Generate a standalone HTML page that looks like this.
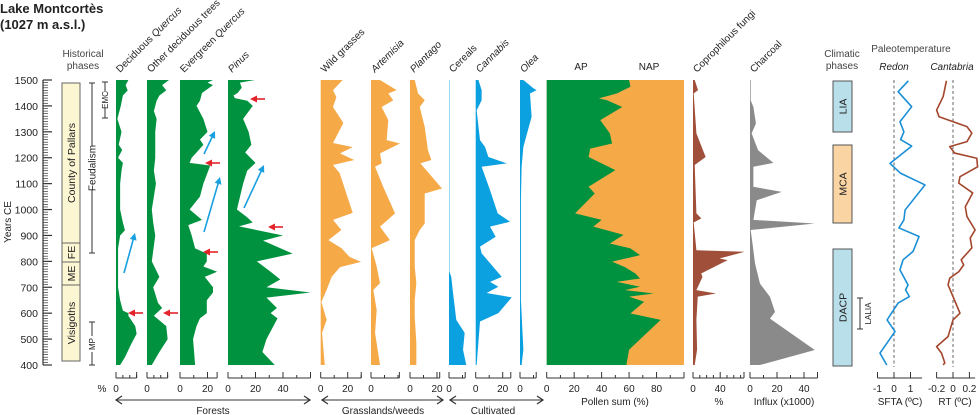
<!DOCTYPE html>
<html><head><meta charset="utf-8">
<style>
html,body{margin:0;padding:0;background:#fff;}
svg{display:block;font-family:"Liberation Sans",Arial,sans-serif;}
</style></head>
<body>
<svg id="chart" width="980" height="415" viewBox="0 0 980 415" xmlns="http://www.w3.org/2000/svg">
<g id="static">
  <text x="0" y="13" font-size="13" font-weight="bold" fill="#222">Lake Montcortès</text>
  <text x="0" y="29" font-size="13" font-weight="bold" fill="#222">(1027 m a.s.l.)</text>
  <text x="83" y="57" font-size="10" fill="#444" text-anchor="middle">Historical</text>
  <text x="83" y="69" font-size="10" fill="#444" text-anchor="middle">phases</text>
  <text transform="translate(11,222) rotate(-90)" font-size="10" fill="#222" text-anchor="middle">Years CE</text>
  <text x="581" y="70" font-size="10" fill="#222" text-anchor="middle">AP</text>
  <text x="649" y="70" font-size="10" fill="#222" text-anchor="middle">NAP</text>
  <text x="842" y="57" font-size="10" fill="#444" text-anchor="middle">Climatic</text>
  <text x="842" y="69" font-size="10" fill="#444" text-anchor="middle">phases</text>
  <text x="911" y="52" font-size="10" fill="#444" text-anchor="middle">Paleotemperature</text>
  <text x="894" y="70" font-size="10" font-style="italic" fill="#222" text-anchor="middle">Redon</text>
  <text x="952" y="70" font-size="10" font-style="italic" fill="#222" text-anchor="middle">Cantabria</text>
  <text x="102" y="392" font-size="10" fill="#222" text-anchor="middle">%</text>
  <text x="615" y="405" font-size="10" fill="#222" text-anchor="middle">Pollen sum (%)</text>
  <text x="719" y="405" font-size="10" fill="#222" text-anchor="middle">%</text>
  <text x="784" y="405" font-size="10" fill="#222" text-anchor="middle">Influx (x1000)</text>
  <text x="900" y="405" font-size="10" fill="#222" text-anchor="middle">SFTA (ºC)</text>
  <text x="955" y="405" font-size="10" fill="#222" text-anchor="middle">RT (ºC)</text>
</g>
<g id="dyn"></g>
</svg>
<script>
// ---------- data ----------
const decQuercusYears=[1500,1480,1460,1440,1400,1350,1300,1250,1230,1200,1180,1150,1100,1000,950,920,900,850,800,700,650,610,600,590,550,520,480,430,400];
const decQuercusVals=[9,7,8.5,5,3.5,1,4,2,4.5,1.5,5,4,3,3,5,6.5,3,1.5,1.5,1.5,3,5,9,9,14,15,11,6.5,3];
const otherDecYears=[1500,1480,1460,1440,1420,1380,1350,1300,1200,1150,1100,1000,950,900,800,740,700,640,620,600,590,550,500,450,400];
const otherDecVals=[16,11,14,9,7,5,7,6,6,5,6.5,3.5,4.5,6,3.5,9,4.5,8,11,7,5,14,15,9,3.5];
const evergreenYears=[1500,1490,1480,1450,1420,1400,1350,1300,1270,1250,1220,1200,1180,1170,1100,1050,1000,960,940,900,850,830,800,780,760,740,700,680,650,600,580,550,500,400];
const evergreenVals=[24,20,24,16,14.5,12,17,20,14.5,17,12,8.5,7,22,17,14.5,7,16,6,8.5,11,19.5,19.5,17,27,18,24,24,19.5,19.5,14.5,12,9.5,11];
const pinusYears=[1500,1490,1470,1450,1440,1430,1420,1400,1350,1300,1250,1220,1180,1150,1100,1000,970,950,935,900,880,830,800,760,730,700,680,660,620,600,580,500,450,400];
const pinusVals=[19.6,8.7,10,7,4,5,14,18,11,15,17,12.5,20,14,11,6.5,14,18,8,40,25.5,47,21,31,38,28,60,28,35.6,31,36,28,25,34];
const grassYears=[1500,1461,1434,1396,1334,1257,1241,1217,1191,1172,1141,987,960,921,882,851,817,798,778,740,690,643,574,524,400];
const grassVals=[16.3,9.1,11.6,9.1,16.8,9.1,23.7,14.3,24.9,9.1,14,23.7,9.1,15.3,5.7,15.3,21.5,29.9,14.3,8.1,4.4,0.5,4.4,1,3];
const artemisiaYears=[1500,1461,1448,1422,1396,1345,1268,1255,1217,1178,1165,1088,985,934,882,851,780,716,690,613,524,400];
const artemisiaVals=[6.7,19,12.8,16.5,7.9,12.8,11.6,21.5,6.7,7.9,3,9,17.8,6.7,14,0.5,4.2,6.7,1.7,4.2,3,6.7];
const plantagoYears=[1500,1448,1422,1396,1319,1229,1191,1178,1081,1062,946,921,882,780,716,651,587,485,400];
const plantagoVals=[3.5,6,10.9,7.2,10.9,13.3,15.8,7.7,23.7,10.9,10.9,7.2,3.5,3.5,4.7,3.5,3.5,4.7,4.7];
const cerealsYears=[1500,760,740,678,574,524,459,400];
const cerealsVals=[0.3,0.3,1.7,3,5.4,11.6,10.4,12.8];
const cannabisYears=[1500,1461,1422,1383,1268,1242,1203,1178,1165,1075,985,953,934,895,857,831,740,721,702,678,661,600,568,400];
const cannabisVals=[2,4.4,4.4,0.7,3.2,6.9,9.4,23,4.4,10.6,16.3,25.4,10.6,14.8,3.2,4.4,19.3,10.6,16.8,8.1,26.7,16.8,3.2,0.7];
const oleaYears=[1500,1468,1461,1448,1358,1242,1165,1036,651,459,400];
const oleaVals=[2.5,9.9,12.3,7.4,8.6,2.5,1.2,0.7,0.7,2.5,1.2];
const apYears=[1500,1474,1448,1429,1422,1396,1345,1294,1255,1235,1203,1184,1152,1088,1062,985,960,934,902,869,850,824,799,778,753,734,721,702,689,676,664,644,599,574,459,400];
const apVals=[60,61,51,38,44,55,39,46,47.6,31.7,30.5,37.8,50,30.5,35,20.7,40,34,56,46,61,68,47.6,57,64.6,68,51,68,57,78,60,71,61,83,60,58];
const fungiYears=[1500,1461,1448,1294,1203,1172,985,966,950,843,837,811,805,753,740,689,676,664,574,459,400];
const fungiVals=[2.5,7.4,1,5,18.6,2.5,5,12.3,1,5,76,39,51,12,14,5,34,7,5,6,2.5];
const charcoalYears=[1500,1422,1396,1332,1294,1229,1180,1165,1088,1068,1036,960,946,921,843,792,714,663,605,579,458,400];
const charcoalVals=[0.5,0.5,2.5,4.4,1.2,6,17.3,2.5,2.5,23.5,5,2.5,48,0.5,2.5,3.7,7.4,14.8,18.5,14.8,48,7.4];
const redonYears=[1497,1455,1397,1339,1300,1270,1245,1178,1140,1095,998,960,929,896,838,806,767,709,690,664,639,574,529,446,400];
const redonVals=[0.87,0.25,1.07,0.36,0.6,0.4,1.07,-0.24,0.4,1.88,0.67,0.6,0.3,1.52,1.15,0.55,0.36,0.85,0.7,0.93,0.25,-0.42,0.06,-0.85,-0.44];
const cantabriaYears=[1497,1436,1384,1358,1320,1295,1262,1243,1218,1198,1165,1127,1102,1064,1011,973,921,890,852,806,786,760,735,709,664,600,574,510,471,446,408,400];
const cantabriaVals=[-0.08,-0.12,-0.2,-0.17,0.17,0.23,0.17,-0.04,0.02,0.29,0.3,0.085,0.07,0.24,0.15,0.17,0.27,0.21,0.23,0.1,0.13,0.07,-0.04,-0.06,0,0.085,0,-0.06,-0.2,-0.14,-0.1,-0.12];
const yTickYears=[400,500,600,700,800,900,1000,1100,1200,1300,1400,1500];

// ---------- helpers ----------
const NS='http://www.w3.org/2000/svg';
const root=document.getElementById('dyn');
function el(tag,attrs,parent){const e=document.createElementNS(NS,tag);for(const k in attrs)e.setAttribute(k,attrs[k]);(parent||root).appendChild(e);return e;}
function yS(yr){return 80+(1500-yr)*285/1100;}

const GREEN='#00923f',ORANGE='#f6a947',BLUE='#0ba0e0',BROWN='#a0503a',GRAY='#8a8a8a';

// y axis
const yAxis=el('g',{});


el('line',{x1:43,y1:yS(1500),x2:43,y2:yS(400),stroke:'#333','stroke-width':1.2},yAxis);
for(let yr=400;yr<=1500;yr+=10){
  const major=yr%100===0;
  el('line',{x1:43,x2:major?52:48,y1:yS(yr),y2:yS(yr),stroke:'#333','stroke-width':major?1.2:0.7},yAxis);
}
yTickYears.forEach(yr=>{
  const t=el('text',{x:38,y:yS(yr)+4,'font-size':10.5,'text-anchor':'end',fill:'#222'},yAxis);
  t.textContent=yr;
  
  
});

// historical phases
const hp=el('g',{});


el('rect',{x:62,y:83,width:18,height:278,fill:'#fdf6d3',stroke:'#666','stroke-width':1},hp);
[243,262,285].forEach(y=>el('line',{x1:62,x2:80,y1:y,y2:y,stroke:'#666'},hp));
[['County of Pallars',163],['FE',252.5],['ME',273.5],['Visigoths',323]].forEach(([s,y])=>{
  const t=el('text',{transform:`translate(75,${y}) rotate(-90)`,'font-size':10.5,'text-anchor':'middle',fill:'#222'},hp);t.textContent=s;
  
  
});
function bracket(x,y1,y2,label,ym,g){
  el('line',{x1:x,x2:x,y1:y1,y2:ym-22,stroke:'#333'},g);
  el('line',{x1:x,x2:x,y1:ym+22,y2:y2,stroke:'#333'},g);
  el('line',{x1:x-3,x2:x+3,y1:y1,y2:y1,stroke:'#333'},g);
  el('line',{x1:x-3,x2:x+3,y1:y2,y2:y2,stroke:'#333'},g);
  const t=el('text',{transform:`translate(${x+3.5},${ym}) rotate(-90)`,'font-size':label.length>4?10:8,'text-anchor':'middle',fill:'#222'},g);t.textContent=label;
  return t;
}
const b1=bracket(92,83,253,'Feudalism',168,hp);


const eg=el('g',{},hp);
el('line',{x1:105,x2:105,y1:82,y2:92,stroke:'#333'},eg);el('line',{x1:105,x2:105,y1:108,y2:118,stroke:'#333'},eg);
el('line',{x1:102,x2:108,y1:82,y2:82,stroke:'#333'},eg);el('line',{x1:102,x2:108,y1:118,y2:118,stroke:'#333'},eg);
const et=el('text',{transform:'translate(108,100) rotate(-90)','font-size':8,'text-anchor':'middle',fill:'#222'},eg);et.textContent='EMC';


const mg=el('g',{},hp);
el('line',{x1:92,x2:92,y1:322,y2:336,stroke:'#333'},mg);el('line',{x1:92,x2:92,y1:352,y2:365,stroke:'#333'},mg);
el('line',{x1:89,x2:95,y1:322,y2:322,stroke:'#333'},mg);el('line',{x1:89,x2:95,y1:365,y2:365,stroke:'#333'},mg);
const mt=el('text',{transform:'translate(95,344) rotate(-90)','font-size':8,'text-anchor':'middle',fill:'#222'},mg);mt.textContent='MP';



// area columns
function areaCol(name,years,vals,x0,k,color,axisMax,tickStep,labels,title,italicPart){
  const g=el('g',{});
  
  
  let pts=[[x0,yS(years[0])]];
  years.forEach((yr,i)=>pts.push([x0+vals[i]*k,yS(yr)]));
  pts.push([x0,yS(years[years.length-1])]);
  const p=el('polygon',{points:pts.map(q=>q.join(',')).join(' '),fill:color},g);
  
  
  axis(g,x0,k,axisMax,tickStep,labels);
  if(title||italicPart){
    const t=el('text',{transform:`translate(${x0+4},73) rotate(-45)`,'font-size':10,fill:'#222'},g);
    if(title){const a=el('tspan',{},t);a.textContent=title;}
    if(italicPart){const b=el('tspan',{'font-style':'italic'},t);b.textContent=italicPart;}
    
    
  }
  return g;
}
function axis(g,x0,k,axisMax,tickStep,labels){
  const ag=el('g',{},g);
  
  
  el('line',{x1:x0,x2:x0+axisMax*k,y1:378,y2:378,stroke:'#333','stroke-width':1},ag);
  for(let v=0;v<=axisMax+0.01;v+=tickStep){
    const maj=labels.indexOf(v)>=0||v===0;
    el('line',{x1:x0+v*k,x2:x0+v*k,y1:378,y2:maj?372:375,stroke:'#333','stroke-width':1},ag);
  }
  el('line',{x1:x0+axisMax*k,x2:x0+axisMax*k,y1:378,y2:372,stroke:'#333'},ag);
  labels.forEach(v=>{const t=el('text',{x:x0+v*k,y:392,'font-size':10,'text-anchor':'middle',fill:'#222'},ag);t.textContent=v;
    
    });
}
areaCol('deciduous-quercus',decQuercusYears,decQuercusVals,116,1.375,GREEN,15,5,[0],'Deciduous ','Quercus');
areaCol('other-deciduous',otherDecYears,otherDecVals,147,1.375,GREEN,15,5,[0],'Other deciduous trees','');
areaCol('evergreen-quercus',evergreenYears,evergreenVals,180,1.375,GREEN,27,10,[0,20],'Evergreen ','Quercus');
areaCol('pinus',pinusYears,pinusVals,228,1.375,GREEN,60,10,[0,20,40],'','Pinus');
areaCol('wild-grasses',grassYears,grassVals,320.7,1.35,ORANGE,30,10,[0,20],'Wild grasses','');
areaCol('artemisia',artemisiaYears,artemisiaVals,371,1.35,ORANGE,21,10,[0],'','Artemisia');
areaCol('plantago',plantagoYears,plantagoVals,410,1.35,ORANGE,22,10,[0,20],'','Plantago');
areaCol('cereals',cerealsYears,cerealsVals,449,1.35,BLUE,12,10,[0],'Cereals','');
areaCol('cannabis',cannabisYears,cannabisVals,475.7,1.35,BLUE,26,10,[0,20],'','Cannabis');
areaCol('olea',oleaYears,oleaVals,520,1.35,BLUE,12,10,[0],'','Olea');
// AP/NAP
const apg=el('g',{});


const nap=el('rect',{x:546.7,y:80,width:137.3,height:285,fill:ORANGE},apg);


{
  let pts=[[546.7,yS(apYears[0])]];
  apYears.forEach((yr,i)=>pts.push([546.7+apVals[i]*1.373,yS(yr)]));
  pts.push([546.7,yS(400)]);
  const p=el('polygon',{points:pts.map(q=>q.join(',')).join(' '),fill:GREEN},apg);
  
  
  axis(apg,546.7,1.373,100,10,[0,20,40,60,80]);
}
areaCol('coprophilous-fungi',fungiYears,fungiVals,693,0.68,BROWN,75,10,[0,40],'Coprophilous fungi','');
areaCol('charcoal',charcoalYears,charcoalVals,750,1.35,GRAY,50,10,[0,20,40],'Charcoal','');

// climatic phases
const cp=el('g',{});


[['LIA',81,132,'#b9e0ea'],['MCA',145,223,'#fbd4a4'],['DACP',249,366,'#b9e0ea']].forEach(([s,y1,y2,c])=>{
  el('rect',{x:833,y:y1,width:19,height:y2-y1,fill:c,stroke:'#555'},cp);
  const t=el('text',{transform:`translate(846.5,${(y1+y2)/2}) rotate(-90)`,'font-size':10.5,'text-anchor':'middle',fill:'#222'},cp);t.textContent=s;
  
  
});
el('line',{x1:860,x2:860,y1:298,y2:329,stroke:'#333'},cp);
el('line',{x1:857,x2:863,y1:298,y2:298,stroke:'#333'},cp);
el('line',{x1:857,x2:863,y1:329,y2:329,stroke:'#333'},cp);
const lt=el('text',{transform:'translate(871,313.5) rotate(-90)','font-size':8,'text-anchor':'middle',fill:'#222'},cp);lt.textContent='LALIA';



// temperature curves
function lineCol(name,years,vals,x0,k,color,ticks,labels,axisFrom,axisTo){
  const g=el('g',{});
  
  
  el('line',{x1:x0,x2:x0,y1:80,y2:367,stroke:'#666','stroke-dasharray':'3,2.5','stroke-width':1},g);
  const p=el('polyline',{points:years.map((yr,i)=>(x0+vals[i]*k)+','+yS(yr)).join(' '),fill:'none',stroke:color,'stroke-width':1.6,'stroke-linejoin':'round'},g);
  
  
  el('line',{x1:x0+axisFrom*k,x2:x0+axisTo*k,y1:378,y2:378,stroke:'#333'},g);
  ticks.forEach(v=>el('line',{x1:x0+v*k,x2:x0+v*k,y1:378,y2:372,stroke:'#333'},g));
  labels.forEach((v,i)=>{const t=el('text',{x:x0+ticks[i]*k,y:392,'font-size':10,'text-anchor':'middle',fill:'#222'},g);t.textContent=v;
    
    });
}
lineCol('redon',redonYears,redonVals,894,16.5,'#1a8fd6',[-1,0,1],['-1','0','1'],-1,1.7);
lineCol('cantabria',cantabriaYears,cantabriaVals,953,82,'#a3462c',[-0.2,0,0.2],['-0.2','0','0.2'],-0.2,0.27);

// group arrows
function dArrow(name,x1,x2,label,lx){
  const g=el('g',{});
  
  
  el('line',{x1:x1,x2:x2,y1:400,y2:400,stroke:'#333','stroke-width':1},g);
  el('polyline',{points:`${x1+6},396 ${x1},400 ${x1+6},404`,fill:'none',stroke:'#333','stroke-width':1.2},g);
  el('polyline',{points:`${x2-6},396 ${x2},400 ${x2-6},404`,fill:'none',stroke:'#333','stroke-width':1.2},g);
  const t=el('text',{x:lx,y:414,'font-size':10,'text-anchor':'middle',fill:'#222'},g);t.textContent=label;
}
dArrow('forests-arrow',116,310,'Forests',213);
dArrow('grasslands-arrow',322,443,'Grasslands/weeds',383);
dArrow('cultivated-arrow',450,543,'Cultivated',493);

// annotation arrows
function arrow(x1,y1,x2,y2,color,name){
  const g=el('g',{});
  
  
  const dx=x2-x1,dy=y2-y1,L=Math.hypot(dx,dy),ux=dx/L,uy=dy/L;
  el('line',{x1:x1,y1:y1,x2:x2-ux*4,y2:y2-uy*4,stroke:color,'stroke-width':1.6},g);
  const bx=x2-ux*7,by=y2-uy*7;
  el('polygon',{points:`${x2},${y2} ${bx-uy*3.5},${by+ux*3.5} ${bx+uy*3.5},${by-ux*3.5}`,fill:color},g);
}
const RED='#e3242b',LB='#1aa0e0';
arrow(143,313,128,313,RED,'red-arrow');
arrow(178,313,163,313,RED,'red-arrow');
arrow(218,252,203,252,RED,'red-arrow');
arrow(283,227,268,227,RED,'red-arrow');
arrow(220,163,205,163,RED,'red-arrow');
arrow(265,99,250,99,RED,'red-arrow');
arrow(124,273,135,233,LB,'blue-arrow');
arrow(204,154,215,131,LB,'blue-arrow');
arrow(204,232,220,177,LB,'blue-arrow');
arrow(244,208,264,165,LB,'blue-arrow');
</script>
</body></html>
